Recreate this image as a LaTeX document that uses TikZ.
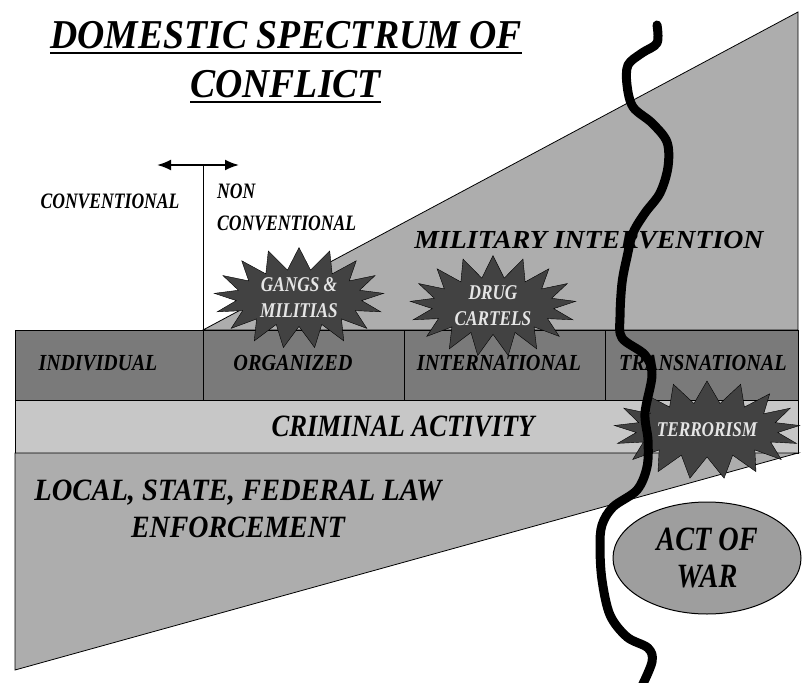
\documentclass[tikz,border=0pt]{standalone}
\usepackage{fontspec}
\setmainfont{Liberation Serif}
\usepackage{graphicx}
\usetikzlibrary{shapes.symbols,shapes.geometric,arrows.meta}
\newcommand\sx[2]{\scalebox{#1}[1]{#2}}
\begin{document}
\begin{tikzpicture}[x=1pt,y=-1pt,
  tri/.style={fill=black!32, draw=black, line width=0.8pt},
  bandA/.style={fill=black!52, draw=black, line width=0.8pt},
  bandB/.style={fill=black!22, draw=black, line width=0.8pt},
  divider/.style={draw=black, line width=0.6pt},
  burst/.style={starburst, fill=black!74, draw=black, line width=0.4pt,
    starburst points=17, starburst point height=22pt, inner sep=0pt,
    text=black!10, font=\bfseries\itshape\fontsize{21}{26}\selectfont, align=center},
  lbl/.style={inner sep=0pt, font=\bfseries\itshape, text=black},
  river/.style={line width=9pt, line cap=round, line join=round, draw=black},
]
\useasboundingbox (0,0) rectangle (804,683);

% upper triangle
\coordinate (ul) at (203,330); \coordinate (apex) at (798,12); \coordinate (ur) at (798,330);
\filldraw[tri] (ul) -- (apex) -- (ur) -- cycle;
% band 1
\coordinate (b1nw) at (15,330); \coordinate (b1se) at (798,400);
\filldraw[bandA] (b1nw) rectangle (b1se);
% band 2
\coordinate (b2nw) at (15,400); \coordinate (b2se) at (798,453);
\filldraw[bandB] (b2nw) rectangle (b2se);
% lower triangle
\coordinate (lnw) at (15,453); \coordinate (lne) at (798,453); \coordinate (lsw) at (15,670);
\filldraw[tri] (lnw) -- (lne) -- (lsw) -- cycle;
% dividers
\coordinate (d1t) at (203,330); \coordinate (d1b) at (203,400);
\coordinate (d2t) at (404,330); \coordinate (d2b) at (404,400);
\coordinate (d3t) at (605,330); \coordinate (d3b) at (605,400);
\draw[divider] (d1t) -- (d1b) (d2t) -- (d2b) (d3t) -- (d3b);

% conventional marker
\coordinate (al) at (157,165); \coordinate (ar) at (239,165);
\coordinate (vt) at (203,165); \coordinate (vb) at (203,330);
\draw[line width=0.8pt] (vt) -- (vb);
\draw[line width=2pt, {Latex[length=14pt,width=11pt]}-{Latex[length=14pt,width=11pt]}] (al) -- (ar);

% title
\node[lbl, anchor=base west, font=\bfseries\itshape\fontsize{41}{41}\selectfont] (t1) at (50,48) {\sx{0.92}{DOMESTIC SPECTRUM OF}};
\draw[line width=1.8pt] ([yshift=-5pt]t1.base west) -- ([yshift=-5pt]t1.base east);
\node[lbl, anchor=base west, font=\bfseries\itshape\fontsize{41}{41}\selectfont] (t2) at (190,97) {\sx{0.92}{CONFLICT}};
\draw[line width=1.8pt] ([yshift=-5pt]t2.base west) -- ([yshift=-5pt]t2.base east);

% conventional labels
\node[lbl, font=\bfseries\itshape\fontsize{22}{32}\selectfont] (conv) at (110,201) {\sx{0.8}{CONVENTIONAL}};
\node[lbl, anchor=west, align=left, font=\bfseries\itshape\fontsize{22}{32}\selectfont] (nonconv) at (217,207) {\sx{0.8}{NON}\\\sx{0.8}{CONVENTIONAL}};

% military intervention
\node[lbl, font=\bfseries\itshape\fontsize{26}{26}\selectfont] (mil) at (589,240) {\sx{1.07}{MILITARY INTERVENTION}};

% band labels
\node[lbl, font=\bfseries\itshape\fontsize{23}{23}\selectfont] (indiv) at (98,363) {\sx{0.86}{INDIVIDUAL}};
\node[lbl, font=\bfseries\itshape\fontsize{23}{23}\selectfont] (org) at (293,363) {\sx{0.88}{ORGANIZED}};
\node[lbl, font=\bfseries\itshape\fontsize{23}{23}\selectfont] (intl) at (499,363) {\sx{0.88}{INTERNATIONAL}};
\node[lbl, font=\bfseries\itshape\fontsize{23}{23}\selectfont] (trans) at (703,363) {\sx{0.88}{TRANSNATIONAL}};
\node[lbl, font=\bfseries\itshape\fontsize{31}{31}\selectfont] (crim) at (403,426) {\sx{0.86}{CRIMINAL ACTIVITY}};
\node[lbl, align=center, font=\bfseries\itshape\fontsize{31}{37}\selectfont] (law) at (238,509) {\sx{0.92}{LOCAL, STATE, FEDERAL LAW}\\\sx{0.9}{ENFORCEMENT}};

% starbursts
\node[burst, minimum width=170pt, minimum height=98pt, random starburst=0] (gangs) at (299,298) {\sx{0.82}{GANGS \&}\\\sx{0.82}{MILITIAS}};
\node[burst, minimum width=166pt, minimum height=96pt, random starburst=0] (drug) at (493,306) {\sx{0.82}{DRUG}\\\sx{0.82}{CARTELS}};
\node[burst, minimum width=176pt, minimum height=98pt, random starburst=0] (terror) at (707,430) {\sx{0.82}{TERRORISM}};

% act of war
\node[ellipse, draw=black, line width=1pt, fill=black!38, minimum width=188pt, minimum height=112pt, inner sep=0pt, align=center, font=\bfseries\itshape\fontsize{34}{37}\selectfont] (war) at (707,558) {\sx{0.83}{ACT OF}\\\sx{0.83}{WAR}};

% the dividing line
\draw[river] plot[smooth, tension=0.55] coordinates {
 (657,25) (657,43) (642,53) (628,65) (627,85) (633,107) (652,123) (667,142)
 (668,167) (660,193) (645,213) (633,233) (627,257) (622,283) (620,317)
 (622,338) (645,355) (652,375) (645,413) (648,440) (647,467) (637,490)
 (613,507) (602,525) (600,547) (602,580) (610,615) (627,637) (648,648)
 (652,662) (640,690)};
\end{tikzpicture}
\end{document}
